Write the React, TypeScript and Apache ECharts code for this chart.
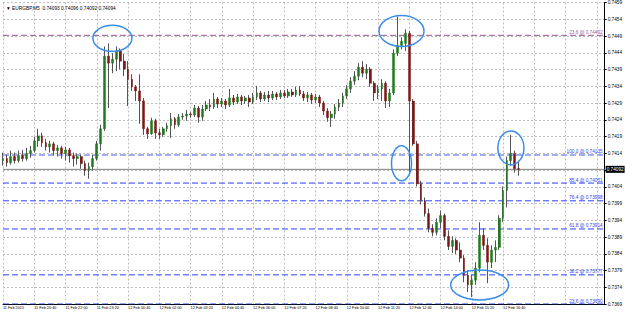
import React, { useEffect, useRef } from "react";
import * as echarts from "echarts";

const TITLE = "▼ EURGBP,M5  0.74093 0.74096 0.74092 0.74094";

const timeTicks = [
  "11 Feb 2015", "11 Feb 20:40", "11 Feb 22:00", "11 Feb 23:20", "12 Feb 00:40",
  "12 Feb 02:00", "12 Feb 03:20", "12 Feb 04:40", "12 Feb 06:00", "12 Feb 07:20",
  "12 Feb 08:40", "12 Feb 10:00", "12 Feb 11:20", "12 Feb 12:40", "12 Feb 14:00",
  "12 Feb 15:20", "12 Feb 16:40",
];

// prices in units of 0.00001
const opens = [
  74118, 74124, 74112, 74130, 74118, 74133, 74124, 74139, 74148, 74177,
  74192, 74171, 74159, 74168, 74148, 74156, 74139, 74150, 74133, 74124,
  74130, 74109, 74088, 74100, 74124, 74168, 74213, 74430, 74409, 74421,
  74445, 74415, 74391, 74361, 74338, 74326, 74296, 74213, 74198, 74237,
  74201, 74195, 74213, 74222, 74243, 74225, 74248, 74251, 74257, 74254,
  74275, 74248, 74272, 74284, 74278, 74302, 74287, 74296, 74284, 74305,
  74293, 74308, 74296, 74305, 74293, 74308, 74320, 74302, 74314, 74305,
  74317, 74308, 74320, 74311, 74323, 74314, 74329, 74317, 74305, 74314,
  74299, 74308, 74290, 74266, 74246, 74257, 74278, 74290, 74311, 74332,
  74355, 74370, 74397, 74379, 74391, 74349, 74320, 74332, 74349, 74296,
  74320, 74439, 74462, 74468, 74498, 74296, 74168, 74049, 73999, 73960,
  73916, 73904, 73934, 73954, 73892, 73862, 73880, 73851, 73827, 73776,
  73747, 73761, 73797, 73895, 73865, 73815, 73851, 73859, 73946, 74029,
  74118, 74139, 74094,
];
const closes = [
  74124, 74112, 74130, 74118, 74133, 74124, 74139, 74148, 74177, 74192,
  74171, 74159, 74168, 74148, 74156, 74139, 74150, 74133, 74124, 74130,
  74109, 74088, 74100, 74124, 74168, 74213, 74430, 74409, 74421, 74445,
  74415, 74391, 74361, 74338, 74326, 74296, 74213, 74198, 74237, 74201,
  74195, 74213, 74222, 74243, 74225, 74248, 74251, 74257, 74254, 74275,
  74248, 74272, 74284, 74278, 74302, 74287, 74296, 74284, 74305, 74293,
  74308, 74296, 74305, 74293, 74308, 74320, 74302, 74314, 74305, 74317,
  74308, 74320, 74311, 74323, 74314, 74329, 74317, 74305, 74314, 74299,
  74308, 74290, 74266, 74246, 74257, 74278, 74290, 74311, 74332, 74355,
  74370, 74397, 74379, 74391, 74349, 74320, 74332, 74349, 74296, 74320,
  74439, 74462, 74474, 74498, 74296, 74168, 74049, 73999, 73960, 73916,
  73904, 73934, 73954, 73892, 73862, 73880, 73851, 73827, 73776, 73747,
  73761, 73797, 73895, 73865, 73815, 73851, 73859, 73946, 74029, 74118,
  74139, 74094, 74092,
];
const highs = [
  74142, 74136, 74148, 74142, 74148, 74150, 74156, 74162, 74189, 74213,
  74201, 74183, 74177, 74174, 74165, 74162, 74159, 74156, 74142, 74139,
  74136, 74118, 74112, 74136, 74177, 74225, 74459, 74468, 74439, 74459,
  74453, 74436, 74415, 74376, 74344, 74376, 74305, 74219, 74246, 74243,
  74213, 74219, 74231, 74260, 74248, 74257, 74260, 74269, 74263, 74284,
  74281, 74284, 74296, 74302, 74320, 74308, 74305, 74302, 74332, 74314,
  74317, 74314, 74311, 74314, 74320, 74341, 74326, 74323, 74326, 74326,
  74323, 74329, 74329, 74332, 74332, 74338, 74341, 74326, 74323, 74320,
  74317, 74314, 74296, 74275, 74266, 74287, 74302, 74320, 74344, 74367,
  74385, 74409, 74415, 74406, 74397, 74355, 74344, 74361, 74355, 74332,
  74450, 74548, 74486, 74510, 74504, 74302, 74177, 74058, 74008, 73975,
  73928, 73946, 73969, 73960, 73910, 73892, 73886, 73874, 73836, 73791,
  73776, 73815, 73934, 73916, 73886, 73865, 73880, 73955, 74041, 74130,
  74195, 74148, 74118,
];
const lows = [
  74103, 74100, 74106, 74109, 74112, 74115, 74118, 74127, 74142, 74159,
  74159, 74148, 74142, 74133, 74130, 74124, 74118, 74112, 74100, 74106,
  74094, 74073, 74064, 74088, 74118, 74148, 74207, 74275, 74379, 74385,
  74391, 74370, 74281, 74326, 74296, 74228, 74195, 74183, 74195, 74183,
  74183, 74189, 74204, 74186, 74213, 74219, 74240, 74237, 74246, 74248,
  74231, 74237, 74266, 74266, 74272, 74275, 74278, 74272, 74278, 74284,
  74287, 74284, 74287, 74278, 74287, 74299, 74293, 74296, 74293, 74299,
  74299, 74302, 74305, 74305, 74308, 74308, 74311, 74296, 74293, 74287,
  74290, 74278, 74254, 74234, 74219, 74243, 74266, 74278, 74302, 74320,
  74344, 74358, 74367, 74361, 74338, 74296, 74302, 74296, 74275, 74278,
  74314, 74430, 74450, 74445, 74079, 74162, 74041, 73987, 73951, 73904,
  73892, 73895, 73916, 73880, 73851, 73842, 73839, 73815, 73755, 73726,
  73711, 73747, 73785, 73851, 73752, 73797, 73815, 73851, 73934, 73978,
  74103, 74082, 74073,
];

const fibTexts = [
  "23.6 @ 0.74492", "100.0 @ 0.74135", "85.4 @ 0.74051", "76.4 @ 0.73998",
  "61.8 @ 0.73914", "38.2 @ 0.73777", "23.6 @ 0.73690",
];
const fibValues = [0.74492, 0.74135, 0.74051, 0.73998, 0.73914, 0.73777, 0.7369];
const lastPrice = 0.74092;

// annotation ellipses: [category index, price, rx, ry]
const marks = [
  [28.4, 0.74483, 19.5, 13],
  [102.4, 0.74505, 22.5, 15.5],
  [102.2, 0.7411, 10, 17.5],
  [129.6, 0.74156, 13, 17],
  [121.9, 0.73747, 29, 15],
];

const SCALE = 100000;
const SLOTS = 155;
const FONT = "Liberation Sans";

export default function App() {
  const ref = useRef<HTMLDivElement>(null);
  useEffect(() => {
    const chart = echarts.init(ref.current!, null, { renderer: "svg" });
    const cats = Array.from({ length: SLOTS }, (_, i) => String(i));
    const ohlc = opens.map((o, i) => [o / SCALE, closes[i] / SCALE, lows[i] / SCALE, highs[i] / SCALE]);
    const bodies = opens.map((o, i) => {
      const a = o / SCALE;
      const b = closes[i] / SCALE;
      return [a, b, Math.min(a, b), Math.max(a, b)];
    });
    const levelSeries = fibTexts.map((text, i) => {
      const top = i === 0;
      const light = i === 1;
      const color = top ? "#9c5a96" : light ? "#a3adf2" : "#2a40ff";
      return {
        type: "line",
        name: "fib" + i,
        silent: true,
        symbol: "circle",
        symbolSize: 0.01,
        showSymbol: true,
        showAllSymbol: true,
        z: 3,
        lineStyle: { color, type: [6, 3], width: light ? 2 : 1 },
        itemStyle: { color },
        data: [
          [0, fibValues[i]],
          {
            value: [SLOTS - 1, fibValues[i]],
            label: {
              show: true,
              formatter: text,
              position: "left",
              distance: 2,
              offset: [0, -3],
              opacity: 1,
              color: top ? "#9a5f96" : "#2d45f0",
              fontSize: 4.7,
              fontFamily: FONT,
            },
          },
        ],
      };
    });
    chart.setOption({
      animation: false,
      backgroundColor: "#ffffff",
      title: {
        text: TITLE,
        left: 1,
        top: 1,
        textStyle: { fontSize: 4.8, fontWeight: "normal", color: "#000", fontFamily: FONT },
      },
      grid: { left: -2, right: 17, top: 1, bottom: 9 },
      xAxis: {
        type: "category",
        data: cats,
        boundaryGap: false,
        axisLine: { show: true, lineStyle: { color: "#000", width: 1 } },
        axisTick: { show: false },
        axisLabel: {
          interval: 7,
          align: "left",
          margin: 2,
          fontSize: 3.8,
          color: "#000",
          fontFamily: FONT,
          formatter: (_v: string, idx: number) => (idx % 8 === 0 && timeTicks[idx / 8]) || "",
        },
        splitLine: { show: true, interval: 7, lineStyle: { color: "#bdbdbd", type: [2, 2], width: 1 } },
      },
      yAxis: {
        type: "value",
        position: "right",
        min: 0.7369,
        max: 0.7459,
        interval: 0.0005,
        axisLine: { show: true, lineStyle: { color: "#000", width: 1 } },
        axisTick: { show: true, length: 2, lineStyle: { color: "#000" } },
        axisLabel: {
          margin: 3,
          fontSize: 4.7,
          color: "#000",
          fontFamily: FONT,
          formatter: (v: number) => (Math.abs(v - lastPrice) < 0.0002 ? "" : v.toFixed(4)),
        },
        splitLine: { show: true, lineStyle: { color: "#bdbdbd", type: [2, 2], width: 1 } },
      },
      series: [
        ...levelSeries,
        {
          type: "line",
          name: "last",
          silent: true,
          symbol: "circle",
          symbolSize: 0.01,
          showSymbol: true,
          showAllSymbol: true,
          z: 3,
          lineStyle: { color: "#808080", type: "solid", width: 1 },
          itemStyle: { color: "#808080" },
          data: [
            [0, lastPrice],
            {
              value: [SLOTS - 1, lastPrice],
              label: {
                show: true,
                position: "right",
                distance: 1,
                opacity: 1,
                formatter: lastPrice.toFixed(5),
                backgroundColor: "#000",
                color: "#fff",
                padding: [1, 1],
                fontSize: 4.7,
                fontFamily: FONT,
              },
            },
          ],
        },
        {
          type: "candlestick",
          name: "wicks",
          data: ohlc,
          barWidth: 1,
          z: 4,
          itemStyle: { color: "#555", color0: "#555", borderColor: "#555", borderColor0: "#555", borderWidth: 1 },
        },
        {
          type: "candlestick",
          name: "bodies",
          data: bodies,
          barWidth: 2.3,
          z: 5,
          itemStyle: {
            color: "#1c7d1c",
            color0: "#7d1717",
            borderColor: "#1c7d1c",
            borderColor0: "#7d1717",
            borderWidth: 0.5,
          },
        },
      ],
    });
    const graphic = marks.map(([idx, price, rx, ry]) => {
      const p = chart.convertToPixel({ xAxisIndex: 0, yAxisIndex: 0 }, [idx, price]) as number[];
      return {
        type: "ellipse",
        shape: { cx: p[0], cy: p[1], rx, ry },
        style: { fill: "none", stroke: "#3b8dea", lineWidth: 1.5 },
        z: 100,
        silent: true,
      };
    });
    chart.setOption({ graphic });
    return () => chart.dispose();
  }, []);
  return <div ref={ref} style={{ position: "fixed", left: 0, top: 0, width: 625, height: 313 }} />;
}
